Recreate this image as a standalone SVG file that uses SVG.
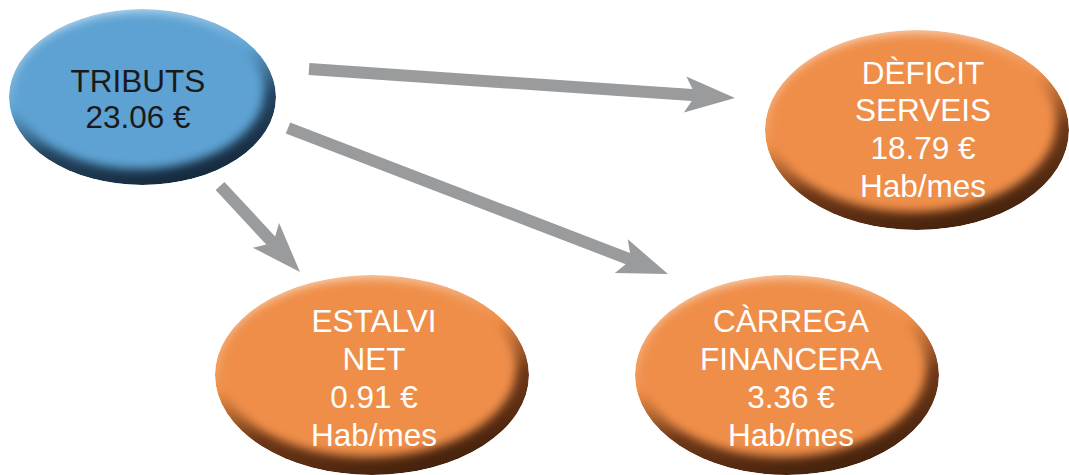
<svg xmlns="http://www.w3.org/2000/svg" width="1069" height="475" viewBox="0 0 1069 475">
<style>
text{font-family:"Liberation Sans",Arial,sans-serif;font-size:31.5px;text-anchor:middle}
.dark{fill:#1a1a1a}
.light{fill:#ffffff}
.arrow{fill:#9a9b9d}
</style>
<defs>
<clipPath id="eclip" clipPathUnits="objectBoundingBox"><ellipse cx="0.5" cy="0.5" rx="0.5" ry="0.5"/></clipPath>
<filter id="soft" x="-20%" y="-20%" width="140%" height="140%"><feGaussianBlur stdDeviation="5"/></filter>
<linearGradient id="gBlue" x1="0.3" y1="0" x2="0.7" y2="1">
<stop offset="0" stop-color="#c4def1"/><stop offset="0.4" stop-color="#5da2d3"/><stop offset="0.65" stop-color="#24445f"/><stop offset="1" stop-color="#14273a"/>
</linearGradient>
<linearGradient id="gOrange" x1="0.3" y1="0" x2="0.7" y2="1">
<stop offset="0" stop-color="#fad6bb"/><stop offset="0.4" stop-color="#ef8e48"/><stop offset="0.65" stop-color="#6e3818"/><stop offset="1" stop-color="#40200c"/>
</linearGradient>
</defs>

<g id="connectors">
<polygon class="arrow" points="309.4,63 692.5,89.1 686.3,76.6 735,98 683.9,112.6 691.7,101.1 308.6,75"/>
<polygon class="arrow" points="290.2,122.4 630,253 627.8,239.3 668,274 614.8,272.9 625.7,264.2 285.8,133.6"/>
<polygon class="arrow" points="224.4,181.9 275.1,236.4 279.1,223.1 300,272 252.8,247.7 266.3,244.6 215.6,190.1"/>
</g>

<g id="tributs">
<g clip-path="url(#eclip)">
<ellipse cx="142.5" cy="97" rx="133.5" ry="88" fill="url(#gBlue)"/>
<ellipse cx="139" cy="91" rx="125" ry="78" fill="#5da2d3" filter="url(#soft)"/>
</g>
<text class="dark" x="138" y="92">TRIBUTS</text>
<text class="dark" x="138" y="128">23.06 €</text>
</g>

<g id="deficit">
<g clip-path="url(#eclip)">
<ellipse cx="917" cy="130" rx="152" ry="100" fill="url(#gOrange)"/>
<ellipse cx="913" cy="123" rx="143" ry="89" fill="#ef8e48" filter="url(#soft)"/>
</g>
<text class="light" x="923" y="84">DÈFICIT</text>
<text class="light" x="923" y="121">SERVEIS</text>
<text class="light" x="923" y="159">18.79 €</text>
<text class="light" x="923" y="197">Hab/mes</text>
</g>

<g id="estalvi">
<g clip-path="url(#eclip)">
<ellipse cx="372" cy="375" rx="157" ry="100" fill="url(#gOrange)"/>
<ellipse cx="368" cy="368" rx="148" ry="89" fill="#ef8e48" filter="url(#soft)"/>
</g>
<text class="light" x="374" y="332">ESTALVI</text>
<text class="light" x="374" y="370">NET</text>
<text class="light" x="374" y="408">0.91 €</text>
<text class="light" x="374" y="446">Hab/mes</text>
</g>

<g id="carrega">
<g clip-path="url(#eclip)">
<ellipse cx="787" cy="375" rx="152" ry="100" fill="url(#gOrange)"/>
<ellipse cx="783" cy="368" rx="143" ry="89" fill="#ef8e48" filter="url(#soft)"/>
</g>
<text class="light" x="791" y="332">CÀRREGA</text>
<text class="light" x="791" y="370">FINANCERA</text>
<text class="light" x="791" y="408">3.36 €</text>
<text class="light" x="791" y="446">Hab/mes</text>
</g>
</svg>
